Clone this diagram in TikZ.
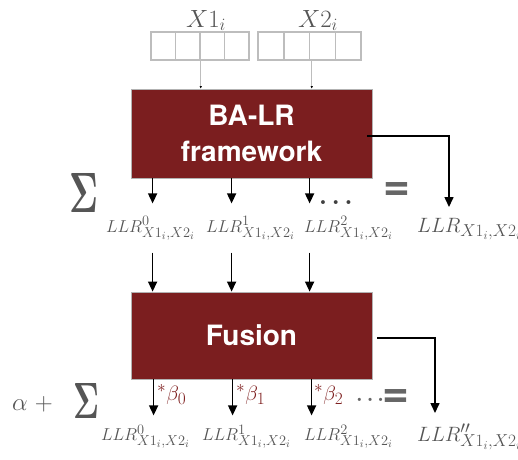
\documentclass[tikz,border=0pt]{standalone}
\usepackage{fontspec}
\newfontfamily\hv{TeX Gyre Heros}
\usetikzlibrary{arrows.meta}
\DeclareMathSizes{16}{16}{14}{11}
\DeclareMathSizes{24}{24}{17}{13}
\DeclareMathSizes{22}{22}{16}{12}
\definecolor{boxred}{HTML}{7B1E1F}
\definecolor{txtgray}{HTML}{555555}
\definecolor{eqgray}{HTML}{666666}
\definecolor{cellgray}{HTML}{BDBDBD}
\definecolor{betared}{HTML}{7E1F1F}
\begin{document}
\begin{tikzpicture}[x=1pt,y=-1pt,
  blk/.style={draw=gray!60, fill=boxred, line width=0.8pt, text=white,
    font=\hv\bfseries\fontsize{28}{35.5}\selectfont, align=center, inner sep=0pt,
    minimum width=241pt},
  cell/.style={draw=cellgray, line width=1.5pt, minimum height=28pt, inner sep=0pt},
  thinln/.style={draw=cellgray, line width=1pt, -{Latex[length=2.5pt,width=2.5pt,color=black]}},
  arr/.style={-{Triangle[length=10pt,width=9pt]}, line width=1.5pt},
  lab/.style={inner sep=0pt, text=txtgray},
  sml/.style={lab, anchor=base west, font=\fontsize{16}{18}\selectfont},
  big/.style={lab, anchor=base west, font=\fontsize{22}{26}\selectfont},
  beta/.style={inner sep=0pt, anchor=base west, text=betared, font=\fontsize{22}{26}\selectfont},
  eq/.style={inner sep=0pt, text=eqgray, font=\hv\bfseries\fontsize{46}{50}\selectfont},
  dots/.style={inner sep=0pt, anchor=base west, text=black!75}
]
\useasboundingbox (0,0) rectangle (518,459);

% input arrays
\foreach \i in {0,...,3} {
  \node[cell, minimum width=24.5pt] (c1\i) at (151+12.25+24.5*\i, 46) {};
  \node[cell, minimum width=25.75pt] (c2\i) at (258+12.875+25.75*\i, 46) {};
}
\node[lab, anchor=base, font=\fontsize{24}{26}\selectfont] (x1) at (206,27) {$X1_i$};
\node[lab, anchor=base, font=\fontsize{24}{26}\selectfont] (x2) at (318,27) {$X2_i$};

% blocks
\node[blk, minimum height=89pt] (b1) at (251.5,133.5) {BA-LR\\framework};
\node[blk, minimum height=87pt] (b2) at (251.5,335.5) {Fusion};

\draw[thinln] (c11.south east) -- (c11.south east |- b1.north);
\draw[thinln] ([xshift=1.5pt]c21.south east) -- ([xshift=1.5pt]c21.south east |- b1.north);

% outputs of BA-LR
\foreach \dx in {22,101,179} {
  \draw[arr] ([xshift=\dx pt]b1.south west) -- ++(0,25);
}
\coordinate (r1) at (449,207);
\draw[arr] ([xshift=-5pt,yshift=-2.5pt]b1.east) -| (r1);

\node[lab, font=\boldmath] (s1) at (83.5,192.5) {\resizebox{29pt}{39pt}{$\Sigma$}};
\node[dots, font=\fontsize{28}{30}\selectfont\boldmath] (d1) at (319,204) {$\ldots$};
\node[eq] (e1) at (396.5,191.5) {=};

\node[sml] (l0) at (106,232) {$LLR^{0}_{X1_i,X2_i}$};
\node[sml] (l1) at (206,232) {$LLR^{1}_{X1_i,X2_i}$};
\node[sml] (l2) at (304,232) {$LLR^{2}_{X1_i,X2_i}$};
\node[big] (lr) at (417,232) {$LLR_{X1_i,X2_i}$};

% inputs of Fusion
\foreach \dx in {22,101,179} {
  \draw[arr] ([xshift=\dx pt]b2.north west) ++(0,-39) -- ++(0,39);
}

% outputs of Fusion
\foreach \dx in {23,102,181} {
  \draw[arr] ([xshift=\dx pt]b2.south west) -- ++(0,36);
}
\coordinate (r2) at (435,413);
\draw[arr] ([xshift=5pt,yshift=-2.5pt]b2.east) -| (r2);

\node[beta] (bt0) at (157,400) {$^{*}\beta_0$};
\node[beta] (bt1) at (236,400) {$^{*}\beta_1$};
\node[beta] (bt2) at (314,400) {$^{*}\beta_2$};
\node[dots, font=\fontsize{22}{26}\selectfont\boldmath, text=eqgray] (d2) at (356,401) {$\ldots$};
\node[eq] (e2) at (396,398) {=};

\node[lab, anchor=base west, font=\fontsize{28}{30}\selectfont] (al) at (12,410) {$\alpha\;+$};
\node[lab, font=\boldmath] (s2) at (86,400.5) {\resizebox{26pt}{35pt}{$\Sigma$}};

\node[sml] (m0) at (101,440.5) {$LLR^{0}_{X1_i,X2_i}$};
\node[sml] (m1) at (202,440.5) {$LLR^{1}_{X1_i,X2_i}$};
\node[sml] (m2) at (304,440.5) {$LLR^{2}_{X1_i,X2_i}$};
\node[big] (mr) at (417,441) {$LLR''_{X1_i,X2_i}$};
\end{tikzpicture}
\end{document}
